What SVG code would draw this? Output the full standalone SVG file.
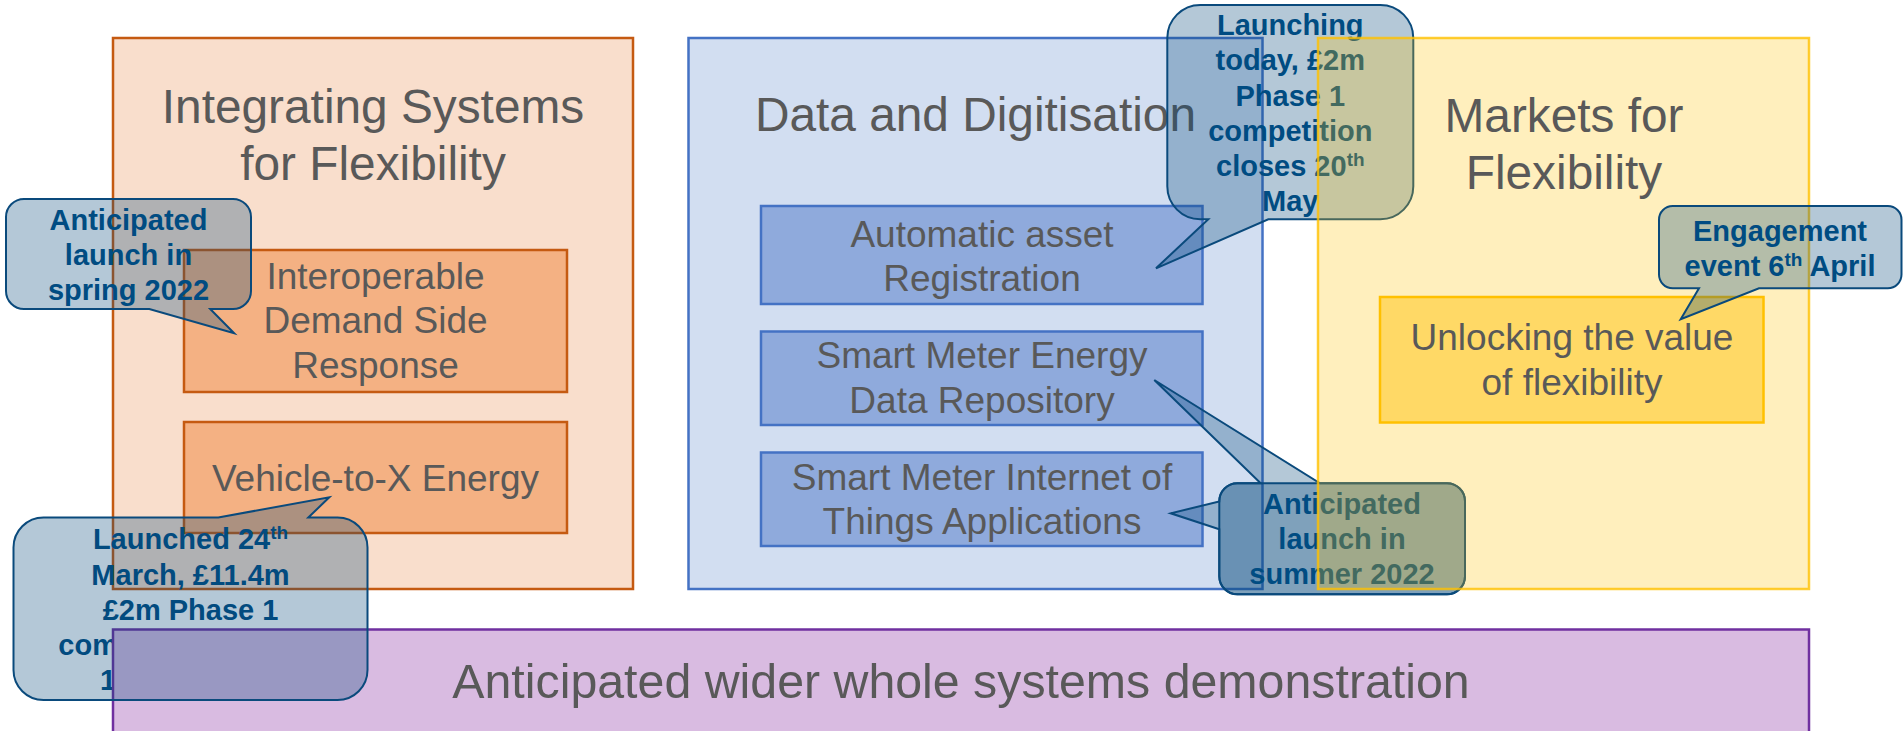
<svg xmlns="http://www.w3.org/2000/svg" width="1903" height="731" viewBox="0 0 1903 731">
<style>
text{font-family:"Liberation Sans",Arial,sans-serif}
.t{fill:#595959;text-anchor:middle}
.big{font-size:47.8px}
.mid{font-size:37px}
.ct{fill:#004C82;font-size:29px;font-weight:bold;text-anchor:middle}
.sup{font-size:19px}
.call{fill:#05487A;fill-opacity:0.3;stroke:#0A4A7C;stroke-width:2;stroke-linejoin:miter}
.oOut{fill:#F9DECC;stroke:#C55A11;stroke-width:2.5}
.oIn{fill:#F4B183;stroke:#C55A11;stroke-width:2.5}
.bOut{fill:#D2DEF1;stroke:#4472C4;stroke-width:2.5}
.bIn{fill:#8FAADC;stroke:#4472C4;stroke-width:2.5}
.yOut{fill:#FFC000;fill-opacity:0.26;stroke:#FFC000;stroke-opacity:0.8;stroke-width:2.5}
.yIn{fill:#FFD966;stroke:#FFC000;stroke-width:2.5}
.pOut{fill:#D9BBE1;stroke:#7030A0;stroke-width:2.5}
</style>
<rect width="1903" height="731" fill="#FFFFFF"/>

<g id="integrating-systems">
<rect class="oOut" x="113" y="38" width="520" height="551"/>
<text class="t big"><tspan x="373" y="123.3">Integrating Systems</tspan><tspan x="373" y="180">for Flexibility</tspan></text>
</g>
<g id="interoperable-dsr">
<rect class="oIn" x="184" y="250" width="383" height="142"/>
<text class="t mid"><tspan x="375.5" y="289">Interoperable</tspan><tspan x="375.5" y="333">Demand Side</tspan><tspan x="375.5" y="378">Response</tspan></text>
</g>
<g id="vehicle-to-x">
<rect class="oIn" x="184" y="422" width="383" height="111"/>
<text class="t mid" x="375.5" y="490.7">Vehicle-to-X Energy</text>
</g>

<g id="data-digitisation">
<rect class="bOut" x="688.5" y="38" width="574" height="551"/>
<text class="t big" x="975.5" y="131">Data and Digitisation</text>
</g>
<g id="automatic-asset">
<rect class="bIn" x="761" y="206" width="441.5" height="98"/>
<text class="t mid"><tspan x="982" y="246.7">Automatic asset</tspan><tspan x="982" y="290.7">Registration</tspan></text>
</g>
<g id="smart-meter-energy">
<rect class="bIn" x="761" y="331.5" width="441.5" height="93.5"/>
<text class="t mid"><tspan x="982" y="368.3">Smart Meter Energy</tspan><tspan x="982" y="413">Data Repository</tspan></text>
</g>
<g id="smart-meter-iot">
<rect class="bIn" x="761" y="452.5" width="441.5" height="93.5"/>
<text class="t mid"><tspan x="982" y="490">Smart Meter Internet of</tspan><tspan x="982" y="534.3">Things Applications</tspan></text>
</g>

<g id="callout-launched-text">
<text class="ct"><tspan x="190.5" y="549">Launched 24<tspan class="sup" dy="-10">th</tspan></tspan><tspan x="190.5" y="585">March, £11.4m</tspan><tspan x="190.5" y="620">£2m Phase 1</tspan></text>
<text class="ct" style="text-anchor:start"><tspan x="58.3" y="655">com</tspan><tspan x="100" y="690">1</tspan></text>
</g>

<g id="whole-systems">
<rect class="pOut" x="113" y="629.5" width="1696" height="130"/>
<text class="t big" x="961" y="697.5" style="font-size:48.3px">Anticipated wider whole systems demonstration</text>
</g>

<g id="callout-spring">
<path class="call" d="M24,199H233A18,18 0 0 1 251,217V291A18,18 0 0 1 233,309H210.2L234.2,333.3L149.3,309H24A18,18 0 0 1 6,291V217A18,18 0 0 1 24,199Z"/>
<text class="ct"><tspan x="128.5" y="230">Anticipated</tspan><tspan x="128.5" y="265">launch in</tspan><tspan x="128.5" y="299.5">spring 2022</tspan></text>
</g>
<g id="callout-launched">
<path class="call" d="M43.5,517.5H218.3L329.3,497.3L308.3,517.5H337.5A30,30 0 0 1 367.5,547.5V670A30,30 0 0 1 337.5,700H43.5A30,30 0 0 1 13.5,670V547.5A30,30 0 0 1 43.5,517.5Z"/>
</g>
<g id="callout-launching-today">
<path class="call" d="M1200.3,5H1380.3A33,33 0 0 1 1413.3,38V186.3A33,33 0 0 1 1380.3,219.3H1268.3L1156,268.3L1208.3,219.3H1200.3A33,33 0 0 1 1167.3,186.3V38A33,33 0 0 1 1200.3,5Z"/>
<text class="ct"><tspan x="1290.3" y="34.5">Launching</tspan><tspan x="1290.3" y="70">today, £2m</tspan><tspan x="1290.3" y="105.5">Phase 1</tspan><tspan x="1290.3" y="140.5">competition</tspan><tspan x="1290.3" y="175.5">closes 20<tspan class="sup" dy="-10">th</tspan></tspan><tspan x="1290.3" y="210.5">May</tspan></text>
</g>
<g id="callout-summer">
<path class="call" d="M1237.3,483.3H1260.7L1154.3,380L1320,483.3H1447A18,18 0 0 1 1465,501.3V576.3A18,18 0 0 1 1447,594.3H1237.3A18,18 0 0 1 1219.3,576.3V501.3A18,18 0 0 1 1237.3,483.3Z"/>
<path class="call" d="M1237.3,483.3H1447A18,18 0 0 1 1465,501.3V576.3A18,18 0 0 1 1447,594.3H1237.3A18,18 0 0 1 1219.3,576.3V529.3L1170.7,513.3L1219.3,501.5A18,18 0 0 1 1237.3,483.3Z"/>
<text class="ct"><tspan x="1342" y="514">Anticipated</tspan><tspan x="1342" y="549">launch in</tspan><tspan x="1342" y="583.5">summer 2022</tspan></text>
</g>

<g id="markets-flexibility">
<rect class="yOut" x="1318" y="38" width="491" height="551"/>
<text class="t big"><tspan x="1564" y="132">Markets for</tspan><tspan x="1564" y="189">Flexibility</tspan></text>
</g>
<g id="unlocking-value">
<rect class="yIn" x="1380" y="297" width="383.5" height="125.5"/>
<text class="t mid"><tspan x="1572" y="350">Unlocking the value</tspan><tspan x="1572" y="395">of flexibility</tspan></text>
</g>
<g id="callout-engagement">
<path class="call" d="M1672.7,206H1887.8A13.7,13.7 0 0 1 1901.5,219.7V274.6A13.7,13.7 0 0 1 1887.8,288.3H1759L1680.7,319.3L1699,288.3H1672.7A13.7,13.7 0 0 1 1659,274.6V219.7A13.7,13.7 0 0 1 1672.7,206Z"/>
<text class="ct"><tspan x="1780" y="240.7">Engagement</tspan><tspan x="1780" y="276">event 6<tspan class="sup" dy="-10">th</tspan><tspan dy="10"> April</tspan></tspan></text>
</g>

<g id="connectors"></g>
</svg>
